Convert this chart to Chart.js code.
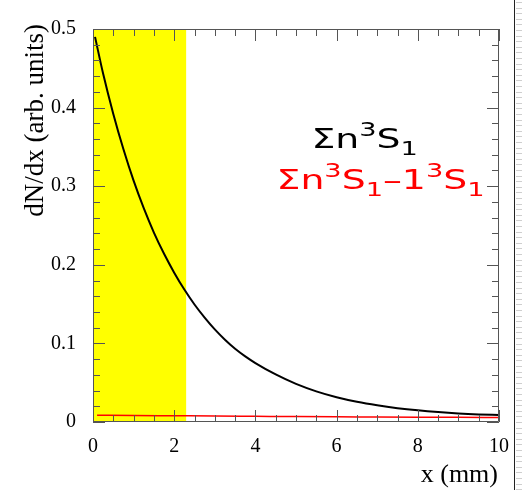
<!DOCTYPE html>
<html>
<head>
<meta charset="utf-8">
<script src="https://cdn.jsdelivr.net/npm/chart.js@4"></script>
<style>
  html, body { margin: 0; padding: 0; background: #ffffff; }
  canvas { display: block; }
</style>
</head>
<body>
<canvas id="plot" width="522" height="490"></canvas>
<script>
// Values
const xAll = [0.05, 0.25, 0.5, 0.75, 1, 1.25, 1.5, 1.75, 2, 2.25, 2.5, 2.75, 3, 3.25, 3.5, 3.75, 4, 4.5, 5, 5.5, 6, 6.5, 7, 7.5, 8, 8.5, 9, 9.5, 10];
const allStates = [0.49, 0.443, 0.392, 0.347, 0.307, 0.272, 0.241, 0.214, 0.190, 0.1685, 0.1495, 0.1328, 0.1178, 0.1047, 0.0932, 0.0835, 0.075, 0.0605, 0.0485, 0.039, 0.0315, 0.0257, 0.0212, 0.0176, 0.0148, 0.0126, 0.0109, 0.0097, 0.0089];

const xExcl = [0.1, 1, 2, 3, 4, 5, 6, 7, 8, 9, 10];
const withoutGround = [0.0085, 0.0083, 0.0080, 0.0077, 0.0073, 0.0069, 0.0066, 0.0064, 0.0062, 0.0060, 0.0057];

// shaded region along x (mm)
const bandX = [0, 2.3];

const xRange = [0, 10];
const yRange = [0, 0.5];
const xMajor = 2, xMinor = 0.5;
const yMajor = 0.1, yMinor = 0.02;

const xTitle = 'x (mm)';
const yTitle = 'dN/dx (arb. units)';

// in-plot labels: [text, kind] pieces, placed in data coordinates
const labelBlack = [['Σn', 'n'], ['3', 'sup'], ['S', 'n'], ['1', 'sub']];
const labelRed = [['Σn', 'n'], ['3', 'sup'], ['S', 'n'], ['1', 'sub'], ['–1', 'n'], ['3', 'sup'], ['S', 'n'], ['1', 'sub']];
const labelBlackAt = { x: 5.38, y: 0.349 };
const labelRedAt = { x: 4.52, y: 0.297 };

const serif = '"Liberation Serif", "DejaVu Serif", serif';
const sans = '"DejaVu Sans", "Noto Sans", sans-serif';

function drawRich(ctx, pieces, x, y, size, color, stretch) {
  ctx.save();
  ctx.translate(x, y);
  ctx.scale(stretch, 1);
  ctx.fillStyle = color;
  ctx.textAlign = 'left';
  ctx.textBaseline = 'alphabetic';
  let cx = 0;
  pieces.forEach(([t, kind]) => {
    let s = size, dy = 0;
    if (kind === 'sup') { s = size * 0.72; dy = -size * 0.42; }
    if (kind === 'sub') { s = size * 0.72; dy = size * 0.26; }
    ctx.font = s + 'px ' + sans;
    ctx.fillText(t, cx, dy);
    cx += ctx.measureText(t).width;
  });
  ctx.restore();
}

// frame with inward ticks on all four sides, plus axis titles
const framePlugin = {
  id: 'frame',
  afterDatasetsDraw(chart) {
    const { ctx, chartArea: a, scales: { x, y } } = chart;
    ctx.save();
    ctx.strokeStyle = '#555555';
    ctx.lineWidth = 1;
    ctx.beginPath();
    ctx.rect(a.left + 0.5, a.top + 0.5, a.right - a.left - 1, a.bottom - a.top - 1);
    ctx.stroke();

    ctx.beginPath();
    const nx = Math.round((xRange[1] - xRange[0]) / xMinor);
    for (let i = 0; i <= nx; i++) {
      const v = xRange[0] + i * xMinor;
      const px = Math.round(x.getPixelForValue(v)) + 0.5;
      const major = Math.abs(v / xMajor - Math.round(v / xMajor)) < 1e-6;
      const len = major ? 12 : 7;
      ctx.moveTo(px, a.bottom); ctx.lineTo(px, a.bottom - len);
      ctx.moveTo(px, a.top); ctx.lineTo(px, a.top + len);
    }
    const ny = Math.round((yRange[1] - yRange[0]) / yMinor);
    for (let i = 0; i <= ny; i++) {
      const v = yRange[0] + i * yMinor;
      const py = Math.round(y.getPixelForValue(v)) + 0.5;
      const major = Math.abs(v / yMajor - Math.round(v / yMajor)) < 1e-6;
      const len = major ? 12 : 7;
      ctx.moveTo(a.left, py); ctx.lineTo(a.left + len, py);
      ctx.moveTo(a.right, py); ctx.lineTo(a.right - len, py);
    }
    ctx.stroke();

    // labels inside the plot
    drawRich(ctx, labelBlack, x.getPixelForValue(labelBlackAt.x), y.getPixelForValue(labelBlackAt.y), 27, '#000000', 1.4);
    drawRich(ctx, labelRed, x.getPixelForValue(labelRedAt.x), y.getPixelForValue(labelRedAt.y), 27, '#ff0000', 1.4);

    // axis titles
    ctx.fillStyle = '#000000';
    ctx.font = '26px ' + serif;
    ctx.textAlign = 'right';
    ctx.textBaseline = 'alphabetic';
    ctx.fillText(xTitle, a.right - 1, 482);

    ctx.save();
    ctx.translate(43, a.top - 5);
    ctx.rotate(-Math.PI / 2);
    ctx.font = '27px ' + serif;
    ctx.textAlign = 'right';
    ctx.fillText(yTitle, 0, 0);
    ctx.restore();
    ctx.restore();
  },
  afterDraw(chart) {
    // page edge at the right of the picture
    const { ctx, width, height } = chart;
    ctx.save();
    ctx.strokeStyle = '#222222';
    ctx.lineWidth = 1;
    ctx.beginPath();
    ctx.moveTo(514.5, 0); ctx.lineTo(514.5, height);
    ctx.stroke();
    ctx.strokeStyle = '#cfcfcf';
    ctx.beginPath();
    for (let yy = 2; yy < height; yy += 5.6) {
      ctx.moveTo(516, Math.round(yy) + 0.5); ctx.lineTo(width, Math.round(yy) + 0.5);
    }
    ctx.stroke();
    ctx.restore();
  }
};

const ctx = document.getElementById('plot');

new Chart(ctx, {
  type: 'line',
  data: {
    datasets: [
      {
        label: 'band',
        data: bandX.map(v => ({ x: v, y: yRange[1] })),
        borderWidth: 0,
        borderColor: 'transparent',
        backgroundColor: '#ffff00',
        fill: 'origin',
        pointRadius: 0,
        order: 3
      },
      {
        label: 'all states',
        data: xAll.map((v, i) => ({ x: v, y: allStates[i] })),
        borderColor: '#000000',
        borderWidth: 2,
        fill: false,
        cubicInterpolationMode: 'monotone',
        pointRadius: 0,
        order: 1
      },
      {
        label: 'without ground state',
        data: xExcl.map((v, i) => ({ x: v, y: withoutGround[i] })),
        borderColor: '#ff0000',
        borderWidth: 1.5,
        fill: false,
        cubicInterpolationMode: 'monotone',
        pointRadius: 0,
        order: 2
      }
    ]
  },
  options: {
    responsive: false,
    animation: false,
    devicePixelRatio: 1,
    layout: {
      padding: { left: 0, right: 21, top: 12, bottom: 0 }
    },
    plugins: {
      legend: { display: false },
      tooltip: { enabled: false }
    },
    scales: {
      x: {
        type: 'linear',
        min: xRange[0],
        max: xRange[1],
        afterFit: s => { s.height = 68; },
        grid: { display: false, drawTicks: false },
        border: { display: false },
        ticks: {
          stepSize: xMajor,
          color: '#000000',
          padding: 13,
          maxRotation: 0,
          font: { family: serif, size: 20 },
          callback: v => String(v)
        }
      },
      y: {
        type: 'linear',
        min: yRange[0],
        max: yRange[1],
        afterFit: s => { s.width = 93; },
        grid: { display: false, drawTicks: false },
        border: { display: false },
        ticks: {
          stepSize: yMajor,
          color: '#000000',
          padding: 17,
          font: { family: serif, size: 20 },
          callback: v => (v === 0 ? '0' : v.toFixed(1))
        }
      }
    }
  },
  plugins: [framePlugin]
});
</script>
</body>
</html>
